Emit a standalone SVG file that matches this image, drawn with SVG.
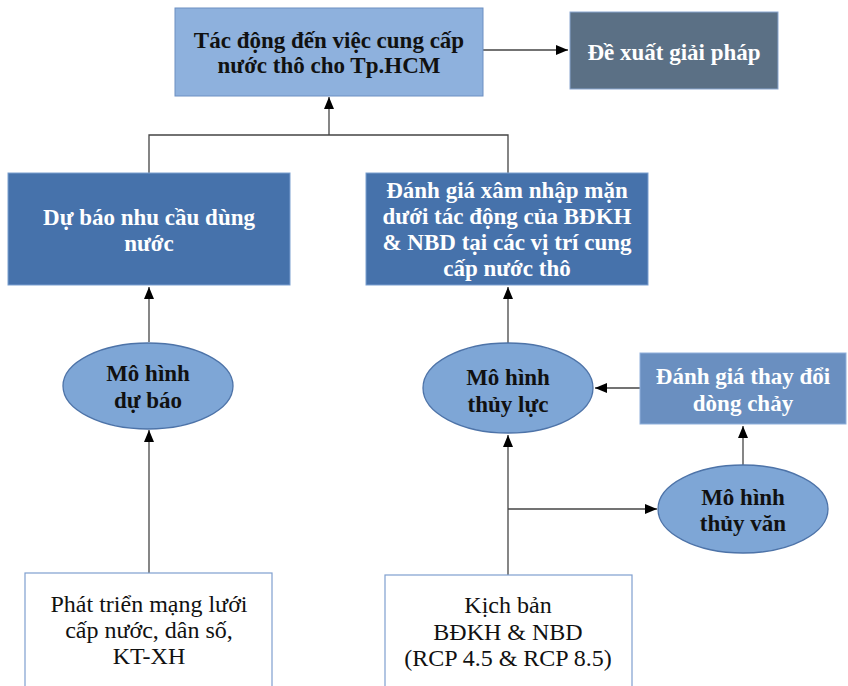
<svg xmlns="http://www.w3.org/2000/svg" width="848" height="686" viewBox="0 0 848 686">
<style>
text{font-family:"Liberation Serif","Times New Roman",serif;font-size:24px;text-anchor:middle}
.b{font-weight:bold;font-size:23px}
.w{fill:#ffffff}
.k{fill:#111111}
.ln{stroke:#444444;stroke-width:1.3;fill:none}
.ell{fill:#7ea6d6;stroke:#4d73a8;stroke-width:1.3}
.dark{fill:#4672ab;stroke:#7a9fd0;stroke-width:1}
</style>
<defs>
<marker id="ah" viewBox="0 0 12 10" refX="12" refY="5" markerWidth="12" markerHeight="10" markerUnits="userSpaceOnUse" orient="auto">
<path d="M0,0 L12,5 L0,10 Z" fill="#000"/>
</marker>
</defs>
<rect width="848" height="686" fill="#ffffff"/>
<g id="connectors">
<line class="ln" x1="483" y1="50" x2="568" y2="50" marker-end="url(#ah)"/>
<polyline class="ln" points="149,173 149,135 508,135 508,173"/>
<line class="ln" x1="329" y1="135" x2="329" y2="97" marker-end="url(#ah)"/>
<line class="ln" x1="149" y1="342" x2="149" y2="287" marker-end="url(#ah)"/>
<line class="ln" x1="149" y1="573" x2="149" y2="430" marker-end="url(#ah)"/>
<line class="ln" x1="508" y1="343" x2="508" y2="287" marker-end="url(#ah)"/>
<line class="ln" x1="508" y1="575" x2="508" y2="435" marker-end="url(#ah)"/>
<line class="ln" x1="508" y1="509" x2="657" y2="509" marker-end="url(#ah)"/>
<line class="ln" x1="640" y1="388" x2="595" y2="388" marker-end="url(#ah)"/>
<line class="ln" x1="743" y1="465" x2="743" y2="426" marker-end="url(#ah)"/>
</g>
<g id="n_tacdong">
<rect x="175" y="8" width="308" height="88" fill="#8eb1dd" stroke="#6d8fc2" stroke-width="1"/>
<text class="b k" x="329" y="48">Tác động đến việc cung cấp</text>
<text class="b k" x="329" y="73">nước thô cho Tp.HCM</text>
</g>
<g id="n_dexuat">
<rect x="570" y="12" width="208" height="77" fill="#5b7085" stroke="#8aa6cf" stroke-width="1"/>
<text class="b w" x="674" y="60">Đề xuất giải pháp</text>
</g>
<g id="n_dubao_nhucau">
<rect class="dark" x="8" y="173" width="282" height="112"/>
<text class="b w" x="149" y="225">Dự báo nhu cầu dùng</text>
<text class="b w" x="149" y="251">nước</text>
</g>
<g id="n_xamnhap">
<rect class="dark" x="366" y="173" width="282" height="112"/>
<text class="b w" x="507" y="198">Đánh giá xâm nhập mặn</text>
<text class="b w" x="507" y="224">dưới tác động của BĐKH</text>
<text class="b w" x="507" y="250">&amp; NBD tại các vị trí cung</text>
<text class="b w" x="507" y="276">cấp nước thô</text>
</g>
<g id="n_mh_dubao">
<ellipse class="ell" cx="148" cy="386" rx="85" ry="43"/>
<text class="b k" x="148" y="381">Mô hình</text>
<text class="b k" x="148" y="408">dự báo</text>
</g>
<g id="n_mh_thuyluc">
<ellipse class="ell" cx="508" cy="388" rx="85" ry="45"/>
<text class="b k" x="508" y="385">Mô hình</text>
<text class="b k" x="508" y="412">thủy lực</text>
</g>
<g id="n_dongchay">
<rect x="640" y="353" width="206" height="71" fill="#6a8fc0" stroke="#8fb0dc" stroke-width="1"/>
<text class="b w" x="743" y="384">Đánh giá thay đổi</text>
<text class="b w" x="743" y="411">dòng chảy</text>
</g>
<g id="n_mh_thuyvan">
<ellipse class="ell" cx="743" cy="509" rx="85" ry="44"/>
<text class="b k" x="743" y="505">Mô hình</text>
<text class="b k" x="743" y="531">thủy văn</text>
</g>
<g id="n_phattrien">
<rect x="25" y="573" width="247" height="120" fill="#ffffff" stroke="#7f9fcf" stroke-width="1.2"/>
<text class="k" x="149" y="612">Phát triển mạng lưới</text>
<text class="k" x="149" y="638">cấp nước, dân số,</text>
<text class="k" x="149" y="664">KT-XH</text>
</g>
<g id="n_kichban">
<rect x="385" y="575" width="247" height="118" fill="#ffffff" stroke="#7f9fcf" stroke-width="1.2"/>
<text class="k" x="508" y="613">Kịch bản</text>
<text class="k" x="508" y="640">BĐKH &amp; NBD</text>
<text class="k" x="508" y="666">(RCP 4.5 &amp; RCP 8.5)</text>
</g>
</svg>
